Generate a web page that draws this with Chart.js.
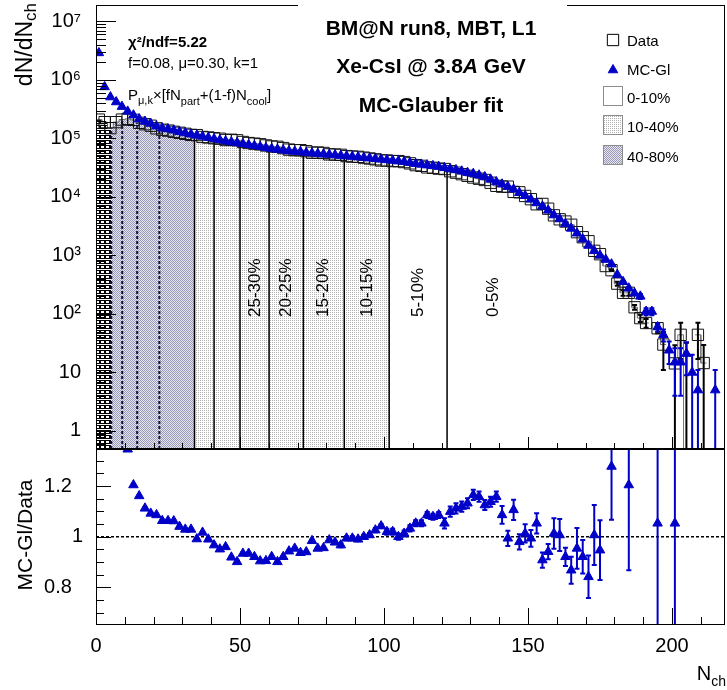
<!DOCTYPE html>
<html>
<head>
<meta charset="utf-8">
<script src="https://cdn.jsdelivr.net/npm/chart.js@4.4.1/dist/chart.umd.min.js"></script>
<style>
  html, body { margin: 0; padding: 0; background: #fff; }
  #wrap { position: relative; width: 727px; height: 690px; overflow: hidden; }
  #topPad { position: absolute; left: 0; top: 0; }
  #ratioPad { position: absolute; left: 0; top: 449px; }
</style>
</head>
<body>
<div id="wrap">
  <canvas id="topPad" width="727" height="450"></canvas>
  <canvas id="ratioPad" width="727" height="241"></canvas>
</div>
<script>
// ---- data ----
const binCenters = [1,3,5,7,9,11,13,15,17,19,21,23,25,27,29,31,33,35,37,39,41,43,45,47,49,51,53,55,57,59,
  61,63,65,67,69,71,73,75,77,79,81,83,85,87,89,91,93,95,97,99,101,103,105,107,109,111,113,115,117,119,
  121,123,125,127,129,131,133,135,137,139,141,143,145,147,149,151,153,155,157,159,161,163,165,167,169,
  171,173,175,177,179,181,183,185,187,189,191,193,195,197,199,201,203,205,207,209,211,213,215,217];

// MC-Glauber fit (blue triangles)
const mcVals = [2.9e6,7.6e5,5.1e5,4.2e5,3.5e5,2.9e5,2.5e5,2.15e5,1.95e5,1.8e5,
  1.62e5,1.5e5,1.45e5,1.38e5,1.3e5,1.24e5,1.18e5,1.13e5,1.08e5,1.03e5,
  9.8e4,9.4e4,9.0e4,8.7e4,8.4e4,8.1e4,7.8e4,7.5e4,7.2e4,6.9e4,
  6.7e4,6.5e4,6.3e4,6.1e4,6.0e4,5.9e4,5.7e4,5.6e4,5.5e4,5.4e4,
  5.3e4,5.2e4,5.1e4,5.0e4,4.9e4,4.8e4,4.7e4,4.6e4,4.5e4,4.4e4,
  4.3e4,4.2e4,4.1e4,4.0e4,3.85e4,3.7e4,3.6e4,3.5e4,3.4e4,3.3e4,
  3.15e4,3.0e4,2.9e4,2.75e4,2.6e4,2.5e4,2.35e4,2.2e4,2.0e4,1.8e4,
  1.65e4,1.5e4,1.35e4,1.18e4,1.05e4,9.1e3,7.9e3,6.9e3,5.9e3,4.9e3,
  4.2e3,3.5e3,2.9e3,2.4e3,1.9e3,1.48e3,1.2e3,1.0e3,850,710,
  470,355,275,225,200,110,110,60,44,24,
  15,15,21,10,5,null,null,5,null];

// measured data (open squares)
const dataVals = [2.1e5,1.9e5,1.5e5,1.9e5,2.1e5,2.16e5,2.08e5,1.85e5,1.75e5,1.65e5,
  1.49e5,1.41e5,1.36e5,1.3e5,1.25e5,1.2e5,1.15e5,1.14e5,1.06e5,1.04e5,
  1.01e5,9.9e4,9.4e4,9.5e4,9.3e4,8.7e4,8.35e4,8.15e4,7.95e4,7.6e4,
  7.3e4,7.2e4,6.85e4,6.45e4,6.3e4,6.3e4,6.05e4,5.7e4,5.75e4,5.65e4,
  5.35e4,5.3e4,5.25e4,5.0e4,4.9e4,4.85e4,4.7e4,4.55e4,4.4e4,4.2e4,
  4.2e4,4.1e4,4.1e4,3.95e4,3.75e4,3.5e4,3.4e4,3.2e4,3.15e4,3.05e4,
  3.0e4,2.75e4,2.6e4,2.45e4,2.3e4,2.15e4,2.05e4,1.95e4,1.75e4,1.55e4,
  1.5e4,1.5e4,1.22e4,1.2e4,1.04e4,9.15e3,7.5e3,7.6e3,6.3e3,4.85e3,
  4.15e3,3.8e3,3.35e3,2.5e3,2.05e3,1.75e3,1.2e3,1.05e3,660,560,
  330,230,230,130,85,70,null,57,30,null,
  14.3,44,0.3,null,44,14.5,null,null,null];

// visible error bars in the tail of the upper panel
const dataErrNch = [179,181,183,185,187,189,191,195,197,201,203,205,209,211];
const dataErrVal = [20,25,25,25,12,12,12,10,19,15,27,32,27,15];
const mcErrNch = [189,191,193,195,197,199,201,203,205,207,209,215];
const mcErrVal = [20,15,15,10,10,10,11,11,12,10,6,6];

// ratio MC-Gl / Data
const ratioNch = [11,13,15,17,19,21,23,25,27,29,31,33,35,37,39,41,43,45,47,49,
  51,53,55,57,59,61,63,65,67,69,71,73,75,77,79,81,83,85,87,89,
  91,93,95,97,99,101,103,105,107,109,111,113,115,117,119,121,123,125,127,129,
  131,133,135,137,139,141,143,145,147,149,151,153,155,157,159,161,163,165,167,169,
  171,173,175,179,185,195,201];
const ratioVals = [1.345,1.204,1.161,1.112,1.092,1.086,1.063,1.063,1.062,1.040,
  1.029,1.029,0.991,1.017,0.990,0.967,0.951,0.960,0.919,0.901,
  0.934,0.934,0.921,0.904,0.905,0.921,0.901,0.921,0.943,0.954,
  0.937,0.940,0.984,0.954,0.956,0.987,0.978,0.967,0.994,0.994,
  0.990,1.000,1.007,1.026,1.042,1.020,1.020,1.000,1.013,1.033,
  1.053,1.053,1.086,1.079,1.086,1.053,1.099,1.112,1.119,1.132,
  1.165,1.158,1.125,1.138,1.158,1.086,0.994,1.106,0.980,1.013,
  0.994,1.053,0.908,0.941,1.013,1.007,0.921,0.868,0.954,0.921,
  0.842,1.007,0.947,1.277,1.204,1.053,1.053];
const ratioErr = [0.004,0.004,0.004,0.004,0.004,0.004,0.004,0.004,0.004,0.004,
  0.004,0.004,0.004,0.004,0.004,0.004,0.004,0.004,0.004,0.004,
  0.004,0.004,0.004,0.004,0.004,0.004,0.004,0.004,0.004,0.004,
  0.004,0.004,0.004,0.004,0.004,0.004,0.004,0.008,0.008,0.008,
  0.008,0.008,0.008,0.008,0.008,0.012,0.012,0.012,0.012,0.012,
  0.012,0.012,0.012,0.012,0.012,0.02,0.02,0.02,0.02,0.02,
  0.02,0.02,0.02,0.02,0.02,0.035,0.03,0.04,0.03,0.036,
  0.033,0.04,0.03,0.03,0.06,0.063,0.036,0.053,0.08,0.066,
  0.084,0.118,0.118,0.21,0.336,0.5,0.5];

// centrality classes
const classEdges = [0, 5.3, 34.2, 101.8, 218.4];   // 80-100 | 40-80 | 10-40 | 0-10 %
const dottedBounds = [5.3, 9.1, 14.3, 22.0];
const solidBounds = [34.2, 41.0, 50.0, 60.1, 72.0, 86.2, 101.8, 121.9];
const classLabels = ['25-30%', '20-25%', '15-20%', '10-15%', '5-10%', '0-5%'];
const classLabelNch = [55.3, 66.1, 78.9, 94.2, 112, 138];

// axes
const xMin = 0, xMax = 218.4;
const yMin = 0.492, yMax = 1.91e7;
const rMin = 0.652, rMax = 1.346;
const xMajorTicks = [0, 50, 100, 150, 200];
const xMinorTicks = [10,20,30,40,60,70,80,90,110,120,130,140,160,170,180,190,210];
const yDecades = [1, 10, 100, 1e3, 1e4, 1e5, 1e6, 1e7];
const yDecadeLabels = ['1', '10', '10²', '10³', '10⁴', '10⁵', '10⁶', '10⁷'];
const logMinorFactors = [2, 3, 4, 5, 6, 7, 8, 9];
const rMajorTicks = [0.8, 1, 1.2];
const rMinorTicks = [0.7, 0.75, 0.85, 0.9, 0.95, 1.05, 1.1, 1.15, 1.25, 1.3];

const TXT = "'Liberation Sans', Arial, Helvetica, sans-serif";
const BLUE = '#0000c8';

// ---- fill patterns ----
const topCtx = document.getElementById('topPad').getContext('2d');
function makePattern(w, h, bg, paint) {
    const c = document.createElement('canvas');
    c.width = w; c.height = h;
    const g = c.getContext('2d');
    g.fillStyle = bg;
    g.fillRect(0, 0, w, h);
    paint(g);
    return topCtx.createPattern(c, 'repeat');
}
const patDense = makePattern(2, 2, '#e6e6f0', g => {
    g.fillStyle = '#9a9ab8'; g.fillRect(0, 0, 1, 1); g.fillRect(1, 1, 1, 1);
});
const patLight = makePattern(2, 2, '#ffffff', g => {
    g.fillStyle = '#b0b0b0'; g.fillRect(0, 0, 1, 1);
});
const patBrick = makePattern(5, 5, '#ffffff', g => {
    g.strokeStyle = '#000'; g.lineWidth = 1; g.strokeRect(0.5, 0.5, 4, 3);
});

// stepped outline of the data histogram between lo and hi
function classSteps(lo, hi) {
    const pts = [];
    binCenters.forEach((c, i) => {
        const e0 = Math.max(c - 1, lo), e1 = Math.min(c + 1, hi);
        if (e1 <= e0) return;
        const v = dataVals[i];
        if (v === null) { pts.push({ x: e0, y: null }); return; }
        pts.push({ x: e0, y: v }, { x: e1, y: v });
    });
    return pts;
}

function dataAt(nch) {
    const i = binCenters.findIndex(c => nch >= c - 1 && nch < c + 1);
    return dataVals[i];
}

function toPoints(xs, ys) {
    return xs.map((x, i) => ({ x: x, y: ys[i] })).filter(p => p.y !== null);
}

function sparseErrors(nchList, errList, vals) {
    return nchList.map((n, k) => ({ x: n, y: vals[binCenters.indexOf(n)], err: errList[k] }))
        .filter(e => e.y !== null && e.y !== undefined);
}

// ---- drawing helpers ----
function drawParts(ctx, x, y, parts, align) {
    let total = 0;
    parts.forEach(p => { ctx.font = p.f; p.w = ctx.measureText(p.t).width; total += p.w; });
    let cx = align === 'right' ? x - total : (align === 'center' ? x - total / 2 : x);
    ctx.textAlign = 'left';
    ctx.textBaseline = 'alphabetic';
    parts.forEach(p => { ctx.font = p.f; ctx.fillText(p.t, cx, y + (p.dy || 0)); cx += p.w; });
}

function drawErrorBars(chart, ds) {
    const { ctx, chartArea: a } = chart;
    const xs = chart.scales.x, ys = chart.scales.y;
    ctx.save();
    ctx.beginPath();
    ctx.rect(a.left, a.top, a.right - a.left, a.bottom - a.top);
    ctx.clip();
    ctx.strokeStyle = ds.errColor;
    ctx.lineWidth = 2;
    ctx.beginPath();
    ds.errorBars.forEach(e => {
        const px = xs.getPixelForValue(e.x);
        const lo = e.y - e.err;
        const yHi = ys.getPixelForValue(e.y + e.err);
        const yLo = lo > ys.min ? ys.getPixelForValue(lo) : a.bottom + 3;
        ctx.moveTo(px, yHi); ctx.lineTo(px, yLo);
        ctx.moveTo(px - 2.5, yHi); ctx.lineTo(px + 2.5, yHi);
        if (lo > ys.min) { ctx.moveTo(px - 2.5, yLo); ctx.lineTo(px + 2.5, yLo); }
    });
    ctx.stroke();
    ctx.restore();
}

function drawFrame(chart, t) {
    const { ctx, chartArea: a } = chart;
    const xs = chart.scales.x, ys = chart.scales.y;
    ctx.save();
    ctx.strokeStyle = '#000';
    ctx.lineWidth = 1;
    ctx.strokeRect(a.left + 0.5, a.top + 0.5, a.right - a.left - 1, a.bottom - a.top - 1);
    ctx.beginPath();
    const xt = (list, len) => list.forEach(v => {
        const px = Math.round(xs.getPixelForValue(v)) + 0.5;
        ctx.moveTo(px, a.bottom); ctx.lineTo(px, a.bottom - len);
    });
    const yt = (list, len) => list.forEach(v => {
        if (v < ys.min || v > ys.max) return;
        const py = Math.round(ys.getPixelForValue(v)) + 0.5;
        ctx.moveTo(a.left, py); ctx.lineTo(a.left + len, py);
    });
    xt(xMajorTicks, t.xMaj); xt(xMinorTicks, t.xMin);
    yt(t.yMajList, t.yMaj); yt(t.yMinList, t.yMin);
    ctx.stroke();
    ctx.restore();
}

// fixed axis box, no extra label padding pushed into the layout
function fixYAxis(s) {
    s.width = 96;
    s.paddingTop = 0; s.paddingBottom = 0;
}
function fixXAxis(s) {
    s.height = 65;
    s.paddingLeft = 0; s.paddingRight = 0;
}

const yMinorList = [0.5, 0.6, 0.7, 0.8, 0.9];
yDecades.forEach(d => logMinorFactors.forEach(f => yMinorList.push(f * d)));

// ---- upper pad plugin ----
const topPlugin = {
    id: 'topPad',
    beforeDatasetDraw(chart, args) {
        const ds = chart.data.datasets[args.index];
        if (ds.errorBars) drawErrorBars(chart, ds);
    },
    afterDatasetDraw(chart, args) {
        const ds = chart.data.datasets[args.index];
        if (ds.id !== 'fillCentral') return;
        const { ctx, chartArea: a } = chart;
        const xs = chart.scales.x, ys = chart.scales.y;
        ctx.save();
        ctx.lineWidth = 1.5;
        ctx.strokeStyle = '#000';
        ctx.beginPath();
        solidBounds.forEach(b => {
            const px = xs.getPixelForValue(b);
            ctx.moveTo(px, a.bottom); ctx.lineTo(px, ys.getPixelForValue(dataAt(b)));
        });
        ctx.stroke();
        ctx.setLineDash([3, 2]);
        ctx.lineWidth = 2;
        ctx.strokeStyle = '#14143c';
        ctx.beginPath();
        dottedBounds.forEach(b => {
            const px = xs.getPixelForValue(b);
            ctx.moveTo(px, a.bottom); ctx.lineTo(px, ys.getPixelForValue(dataAt(b)));
        });
        ctx.stroke();
        ctx.restore();
    },
    afterDraw(chart) {
        const { ctx } = chart;
        const xs = chart.scales.x;
        drawFrame(chart, { xMaj: 12, xMin: 6, yMaj: 20, yMin: 10, yMajList: yDecades, yMinList: yMinorList });
        ctx.save();
        // title pave covers the frame
        ctx.fillStyle = '#fff';
        ctx.fillRect(298, 3, 269, 5);
        ctx.fillStyle = '#000';

        // centrality labels
        ctx.font = '17px ' + TXT;
        classLabels.forEach((lab, i) => {
            ctx.save();
            ctx.translate(xs.getPixelForValue(classLabelNch[i]), 317);
            ctx.rotate(-Math.PI / 2);
            ctx.textAlign = 'left';
            ctx.textBaseline = 'middle';
            ctx.fillText(lab, 0, 0);
            ctx.restore();
        });

        // fit info
        drawParts(ctx, 128, 47, [{ t: 'χ²/ndf=5.22', f: 'bold 15px ' + TXT }], 'left');
        drawParts(ctx, 128, 68, [{ t: 'f=0.08, μ=0.30, k=1', f: '15px ' + TXT }], 'left');
        const m = '15px ' + TXT, s = '11px ' + TXT;
        drawParts(ctx, 128, 100, [
            { t: 'P', f: m }, { t: 'μ,k', f: s, dy: 4 }, { t: '×[fN', f: m },
            { t: 'part', f: s, dy: 5 }, { t: '+(1-f)N', f: m }, { t: 'cool', f: s, dy: 5 },
            { t: ']', f: m }], 'left');

        // title
        const b = 'bold 21px ' + TXT;
        drawParts(ctx, 431, 35, [{ t: 'BM@N run8, MBT, L1', f: b }], 'center');
        drawParts(ctx, 431, 73, [{ t: 'Xe-CsI @ 3.8', f: b }, { t: 'A', f: 'italic bold 21px ' + TXT }, { t: ' GeV', f: b }], 'center');
        drawParts(ctx, 431, 112, [{ t: 'MC-Glauber fit', f: b }], 'center');

        // legend
        ctx.fillStyle = '#fff'; ctx.strokeStyle = '#000'; ctx.lineWidth = 1;
        Chart.helpers.drawPoint(ctx, { pointStyle: 'rect', radius: 8, borderWidth: 1, rotation: 0 }, 613, 40);
        ctx.fillStyle = BLUE; ctx.strokeStyle = BLUE;
        Chart.helpers.drawPoint(ctx, { pointStyle: 'triangle', radius: 5.5, borderWidth: 1, rotation: 0 }, 613, 70);
        const boxes = [['#ffffff', 86], [patLight, 115], [patDense, 145]];
        boxes.forEach(([fill, y]) => {
            ctx.fillStyle = fill;
            ctx.fillRect(603, y, 20, 20);
            ctx.strokeStyle = '#8c8c8c';
            ctx.strokeRect(603.5, y + 0.5, 19, 19);
        });
        ctx.fillStyle = '#000';
        const l = '15px ' + TXT;
        drawParts(ctx, 627, 46, [{ t: 'Data', f: l }], 'left');
        drawParts(ctx, 627, 75, [{ t: 'MC-Gl', f: l }], 'left');
        drawParts(ctx, 627, 103, [{ t: '0-10%', f: l }], 'left');
        drawParts(ctx, 627, 132, [{ t: '10-40%', f: l }], 'left');
        drawParts(ctx, 627, 162, [{ t: '40-80%', f: l }], 'left');

        // y title
        ctx.save();
        ctx.translate(32, 3);
        ctx.rotate(-Math.PI / 2);
        drawParts(ctx, 0, 0, [{ t: 'dN/dN', f: '23px ' + TXT }, { t: 'ch', f: '17px ' + TXT, dy: 4 }], 'right');
        ctx.restore();
        ctx.restore();
    }
};

// ---- ratio pad plugin ----
const ratioPlugin = {
    id: 'ratioPad',
    beforeDatasetsDraw(chart) {
        const { ctx, chartArea: a } = chart;
        const py = chart.scales.y.getPixelForValue(1);
        ctx.save();
        ctx.strokeStyle = '#000';
        ctx.lineWidth = 1.6;
        ctx.setLineDash([3, 2]);
        ctx.beginPath();
        ctx.moveTo(a.left, py); ctx.lineTo(a.right, py);
        ctx.stroke();
        ctx.restore();
    },
    beforeDatasetDraw(chart, args) {
        const ds = chart.data.datasets[args.index];
        if (ds.errorBars) drawErrorBars(chart, ds);
    },
    afterDraw(chart) {
        const { ctx } = chart;
        drawFrame(chart, { xMaj: 17, xMin: 8, yMaj: 15, yMin: 8, yMajList: rMajorTicks, yMinList: rMinorTicks });
        ctx.save();
        ctx.fillStyle = '#000';
        ctx.translate(32, 86);
        ctx.rotate(-Math.PI / 2);
        drawParts(ctx, 0, 0, [{ t: 'MC-Gl/Data', f: '21px ' + TXT }], 'center');
        ctx.restore();
        ctx.save();
        ctx.fillStyle = '#000';
        drawParts(ctx, 726, 231, [{ t: 'N', f: '20px ' + TXT }, { t: 'ch', f: '14px ' + TXT, dy: 6 }], 'right');
        ctx.restore();
    }
};

const tickFont = { family: TXT, size: 20 };

// ---- upper pad ----
new Chart(document.getElementById('topPad'), {
    type: 'scatter',
    data: {
        datasets: [
            {
                label: 'MC-Gl', type: 'scatter', order: 1,
                data: toPoints(binCenters, mcVals),
                pointStyle: 'triangle', pointRadius: 5.5, borderWidth: 1,
                backgroundColor: BLUE, borderColor: BLUE, clip: 0,
                errorBars: sparseErrors(mcErrNch, mcErrVal, mcVals), errColor: BLUE
            },
            {
                label: 'Data', type: 'scatter', order: 2,
                data: toPoints(binCenters, dataVals),
                pointStyle: 'rect', pointRadius: 8, borderWidth: 1,
                backgroundColor: 'rgba(0,0,0,0)', borderColor: '#111', clip: 0,
                errorBars: sparseErrors(dataErrNch, dataErrVal, dataVals), errColor: '#000'
            },
            {
                id: 'fillCentral', type: 'line', order: 10,
                data: classSteps(classEdges[3], classEdges[4]),
                fill: 'start', backgroundColor: '#ffffff', borderColor: '#777', borderWidth: 1,
                pointRadius: 0, tension: 0
            },
            {
                type: 'line', order: 11,
                data: classSteps(classEdges[2], classEdges[3]),
                fill: 'start', backgroundColor: patLight, borderColor: '#777', borderWidth: 1,
                pointRadius: 0, tension: 0
            },
            {
                type: 'line', order: 12,
                data: classSteps(classEdges[1], classEdges[2]),
                fill: 'start', backgroundColor: patDense, borderColor: '#666', borderWidth: 1,
                pointRadius: 0, tension: 0
            },
            {
                type: 'line', order: 13,
                data: classSteps(classEdges[0], classEdges[1]),
                fill: 'start', backgroundColor: patBrick, borderColor: '#666', borderWidth: 1,
                pointRadius: 0, tension: 0
            }
        ]
    },
    options: {
        responsive: false,
        animation: false,
        events: [],
        layout: { autoPadding: false, padding: { top: 5, right: 2, bottom: 1, left: 0 } },
        plugins: { legend: { display: false }, tooltip: { enabled: false } },
        scales: {
            x: { type: 'linear', min: xMin, max: xMax, display: false },
            y: {
                type: 'logarithmic', min: yMin, max: yMax,
                grid: { display: false, drawTicks: false }, border: { display: false },
                afterFit: fixYAxis,
                afterBuildTicks: s => { s.ticks = yDecades.map(v => ({ value: v })); },
                ticks: {
                    font: tickFont, color: '#000', padding: 15,
                    callback: (v, i) => yDecadeLabels[i]
                }
            }
        }
    },
    plugins: [topPlugin]
});

// ---- ratio pad ----
new Chart(document.getElementById('ratioPad'), {
    type: 'scatter',
    data: {
        datasets: [{
            label: 'MC-Gl/Data', type: 'scatter',
            data: toPoints(ratioNch, ratioVals),
            pointStyle: 'triangle', pointRadius: 5.5, borderWidth: 1,
            backgroundColor: BLUE, borderColor: BLUE, clip: 0,
            errorBars: ratioNch.map((n, i) => ({ x: n, y: ratioVals[i], err: ratioErr[i] })),
            errColor: BLUE
        }]
    },
    options: {
        responsive: false,
        animation: false,
        events: [],
        layout: { autoPadding: false, padding: { top: 0, right: 2, bottom: 0, left: 0 } },
        plugins: { legend: { display: false }, tooltip: { enabled: false } },
        scales: {
            x: {
                type: 'linear', min: xMin, max: xMax,
                grid: { display: false, drawTicks: false }, border: { display: false },
                afterFit: fixXAxis,
                afterBuildTicks: s => { s.ticks = xMajorTicks.map(v => ({ value: v })); },
                ticks: { font: tickFont, color: '#000', padding: 9, maxRotation: 0, autoSkip: false }
            },
            y: {
                type: 'linear', min: rMin, max: rMax,
                grid: { display: false, drawTicks: false }, border: { display: false },
                afterFit: fixYAxis,
                afterBuildTicks: s => { s.ticks = rMajorTicks.map(v => ({ value: v })); },
                ticks: {
                    font: tickFont, color: '#000', padding: 13,
                    callback: v => (v === 1 ? '1' : v.toFixed(1) + '  ')
                }
            }
        }
    },
    plugins: [ratioPlugin]
});
</script>
</body>
</html>
